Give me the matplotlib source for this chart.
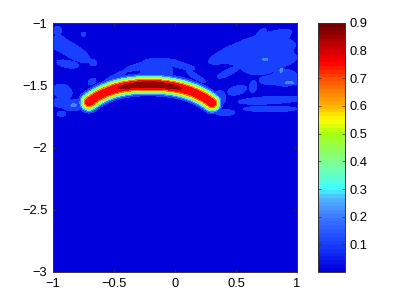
"""Arc-shaped intensity map with a faint speckle background, contourf + colorbar."""
import matplotlib
matplotlib.use("Agg")
import matplotlib.pyplot as plt
import numpy as np
from matplotlib.cm import ScalarMappable
from matplotlib.colors import LinearSegmentedColormap, Normalize

W, H = 407, 307

X_TICKS = [-1, -0.5, 0, 0.5, 1]
Y_TICKS = [-3, -2.5, -2, -1.5, -1]
CBAR_TICKS = [0.1, 0.2, 0.3, 0.4, 0.5, 0.6, 0.7, 0.8, 0.9]
LEVELS = [0, 0.1, 0.2, 0.3, 0.4, 0.5, 0.6, 0.7, 0.8, 0.9]

# bright ridge
RIDGE_X = [-0.705, -0.557, -0.393, -0.205, -0.016, 0.148, 0.303]
RIDGE_Y = [-1.635, -1.554, -1.506, -1.496, -1.514, -1.554, -1.643]
RIDGE_AMP = [0.79, 0.77, 0.82, 0.87, 0.82, 0.77, 0.79]
RIDGE_WIDTH = 0.047

# faint patches: x, y, half length, half width, angle (deg), peak
PATCH_X = [-0.96, -0.75, -0.85, -0.95, -0.88, -0.67, -0.68, -0.92, -0.84, -0.94, -0.93, -0.83,
           -0.50, -0.30, -0.12, 0.05, 0.17, -0.15,
           0.615, 0.78, 0.90, 0.71, 0.43, 0.64, 0.51, 0.37, 0.78, 0.78, 0.41, 0.78, 0.68, 0.72,
           0.74, 0.87, 0.94]
PATCH_Y = [-1.06, -1.09, -1.22, -1.16, -1.33, -1.32, -1.47, -1.55, -1.66, -1.64, -1.73, -1.66,
           -1.44, -1.35, -1.31, -1.34, -1.43, -1.39,
           -1.19, -1.31, -1.44, -1.08, -1.40, -1.51, -1.54, -1.60, -1.62, -1.69, -1.72, -1.46, -1.37, -1.24,
           -1.29, -1.38, -1.48]
PATCH_SA = [0.025, 0.015, 0.16, 0.05, 0.08, 0.02, 0.03, 0.07, 0.08, 0.06, 0.03, 0.05,
            0.10, 0.10, 0.12, 0.10, 0.08, 0.12,
            0.33, 0.20, 0.10, 0.04, 0.08, 0.04, 0.07, 0.04, 0.24, 0.20, 0.07, 0.08, 0.10, 0.25,
            0.04, 0.015, 0.06]
PATCH_SB = [0.03, 0.012, 0.05, 0.05, 0.025, 0.02, 0.016, 0.05, 0.04, 0.03, 0.016, 0.02,
            0.018, 0.02, 0.02, 0.02, 0.016, 0.08,
            0.06, 0.06, 0.06, 0.02, 0.02, 0.025, 0.03, 0.05, 0.025, 0.018, 0.02, 0.03, 0.04, 0.07,
            0.012, 0.03, 0.012]
PATCH_ANG = [0, 0, -30, 0, -10, 0, 30, -20, 0, 0, 0, 0,
             28, 15, 0, -15, -30, 0,
             20, 10, 0, 40, 25, 80, 15, 0, 3, 0, 0, 0, 0, 15,
             0, 0, 0]
PATCH_AMP = [0.18, 0.18, 0.18, 0.18, 0.18, 0.18, 0.18, 0.18, 0.18, 0.18, 0.18, 0.22,
             0.18, 0.18, 0.18, 0.18, 0.18, 0.18,
             0.18, 0.18, 0.18, 0.18, 0.18, 0.18, 0.18, 0.18, 0.18, 0.18, 0.18, 0.18, 0.18, 0.18,
             0.23, 0.23, 0.23]

# colourbar colours, value -> rgb
CMAP_VALS = [0, 0.1, 0.2, 0.26, 0.3, 0.4, 0.5, 0.55, 0.6, 0.7, 0.76, 0.84, 0.9]
CMAP_COLS = ["#0000dc", "#1a40ff", "#3f7cff", "#4fb4ff", "#40ffff", "#80ff90", "#a8ff10", "#ffff00",
             "#ffb800", "#ff5000", "#ff0000", "#b00000", "#700000"]


def field(xx, yy):
    low = np.zeros_like(xx)
    high = np.zeros_like(xx)
    for x0, y0, sa, sb, ang, amp in zip(PATCH_X, PATCH_Y, PATCH_SA, PATCH_SB, PATCH_ANG, PATCH_AMP):
        t = np.deg2rad(ang)
        u = (xx - x0) * np.cos(t) + (yy - y0) * np.sin(t)
        v = -(xx - x0) * np.sin(t) + (yy - y0) * np.cos(t)
        z = amp * np.exp(-0.5 * (u / sa) ** 2 - 0.5 * (v / sb) ** 2)
        if amp > 0.2:
            high = np.maximum(high, z)
        else:
            low += z ** 4
    # soft union so close patches run together, capped under the next level
    zz = np.maximum(np.minimum(low ** 0.25, 0.195), high)

    # distance to a smoothed ridge line
    coef = np.polyfit(RIDGE_X, RIDGE_Y, 4)
    rx = np.linspace(RIDGE_X[0], RIDGE_X[-1], 160)
    ry = np.polyval(coef, rx)
    ra = np.interp(rx, RIDGE_X, RIDGE_AMP)
    d2 = (xx[..., None] - rx) ** 2 + (yy[..., None] - ry) ** 2
    idx = d2.argmin(axis=-1)
    d = np.sqrt(d2.min(axis=-1))
    ridge = ra[idx] * np.exp(-0.5 * (d / RIDGE_WIDTH) ** 2.4)
    return np.minimum(np.maximum(zz, ridge), 0.899)


def main():
    plt.rcParams["font.family"] = ["Liberation Sans", "DejaVu Sans"]
    plt.rcParams["font.size"] = 9.3

    cmap = LinearSegmentedColormap.from_list(
        "bar", [(v / 0.9, c) for v, c in zip(CMAP_VALS, CMAP_COLS)], N=64)
    norm = Normalize(0, 0.9)

    fig = plt.figure(figsize=(W / 100, H / 100), dpi=100)
    ax = fig.add_axes([53 / W, 1 - 272 / H, 244 / W, 249 / H])
    cax = fig.add_axes([318 / W, 1 - 272 / H, 27 / W, 249 / H])

    x = np.linspace(-1, 1, 300)
    y = np.linspace(-3, -1, 300)
    xx, yy = np.meshgrid(x, y)
    cs = ax.contourf(xx, yy, field(xx, yy), levels=LEVELS,
                     colors=[cmap(norm(l * 1.08)) for l in LEVELS[:-1]])
    cs.set_edgecolor("face")
    cs.set_linewidth(0.4)
    ax.set_xlim(-1, 1)
    ax.set_ylim(-3, -1)
    ax.set_xticks(X_TICKS)
    ax.set_xticklabels(["\u22121", "\u22120.5", "0", "0.5", "1"])
    ax.set_yticks(Y_TICKS)
    ax.set_yticklabels(["\u22123", "\u22122.5", "\u22122", "\u22121.5", "\u22121"])
    ax.tick_params(direction="in", length=2.2, width=0.5, top=True, right=True, color="#333333", pad=4)

    fig.colorbar(ScalarMappable(norm=norm, cmap=cmap), cax=cax, ticks=CBAR_TICKS)
    cax.tick_params(direction="in", length=2.2, width=0.5, left=True, right=True, color="#333333", pad=3)

    for a in (ax, cax):
        for s in a.spines.values():
            s.set_linewidth(0.7)
            s.set_color("#333333")

    fig.savefig("out.png", dpi=100)


if __name__ == "__main__":
    main()
